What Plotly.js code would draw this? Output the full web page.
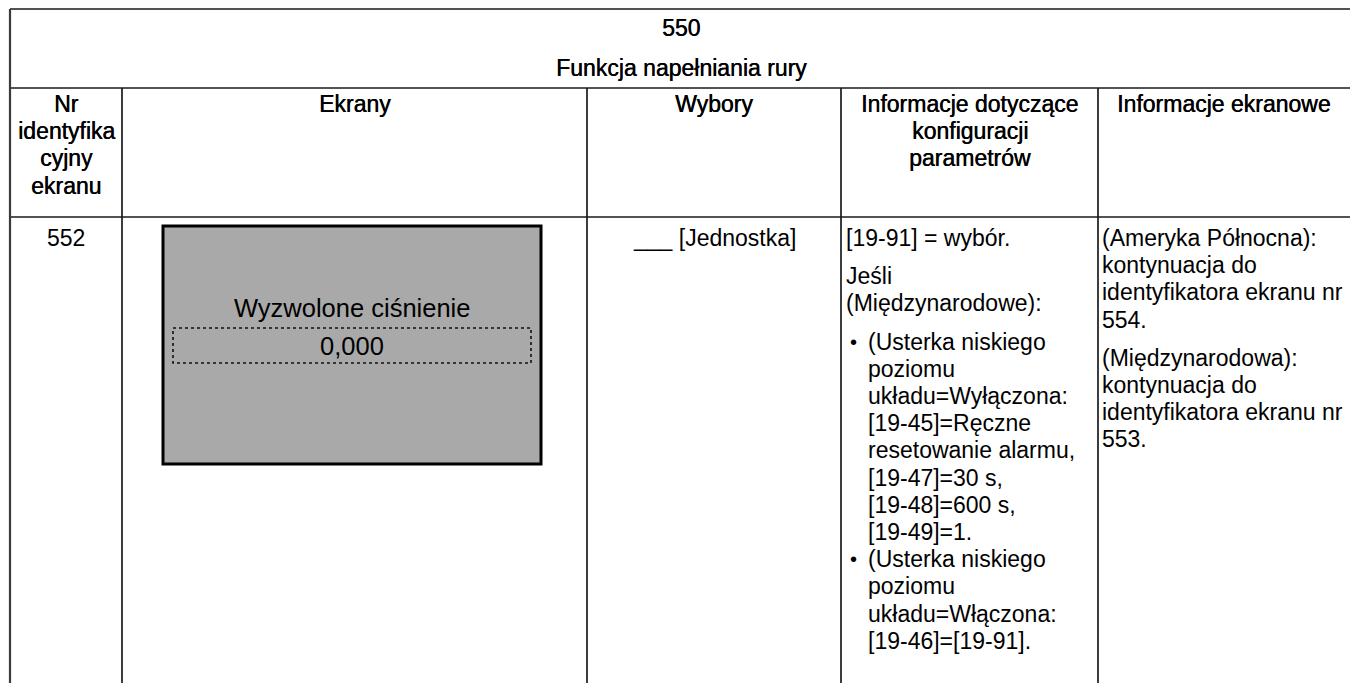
<!DOCTYPE html>
<html>
<head>
<meta charset="utf-8">
<script src="https://cdn.plot.ly/plotly-3.0.1.min.js"></script>
<style>
  html, body { margin: 0; padding: 0; background: #fff; }
  #chart { width: 1350px; height: 683px; }
</style>
</head>
<body>
<div id="chart"></div>
<script>
// ---------- DATA (texts of the table) ----------
const titleLines = ["550", "Funkcja napełniania rury"];
const headerCol1 = ["Nr", "identyfika", "cyjny", "ekranu"];
const headerCol2 = ["Ekrany"];
const headerCol3 = ["Wybory"];
const headerCol4 = ["Informacje dotyczące", "konfiguracji", "parametrów"];
const headerCol5 = ["Informacje ekranowe"];
const screenIds = ["552"];
const screenLabel = ["Wyzwolone ciśnienie"];
const screenValue = ["0,000"];
const choices = ["___ [Jednostka]"];
const paramPara1 = ["[19-91] = wybór."];
const paramPara2 = ["Jeśli", "(Międzynarodowe):"];
const paramBullet1 = ["(Usterka niskiego", "poziomu", "układu=Wyłączona:", "[19-45]=Ręczne", "resetowanie alarmu,", "[19-47]=30 s,", "[19-48]=600 s,", "[19-49]=1."];
const paramBullet2 = ["(Usterka niskiego", "poziomu", "układu=Włączona:", "[19-46]=[19-91]."];
const infoPara1 = ["(Ameryka Północna):", "kontynuacja do", "identyfikatora ekranu nr", "554."];
const infoPara2 = ["(Międzynarodowa):", "kontynuacja do", "identyfikatora ekranu nr", "553."];

// ---------- LAYOUT GEOMETRY ----------
const W = 1350, H = 683;
const colEdges = [10, 122, 587, 841, 1098];
const tableTop = 9, titleBottom = 88, headerBottom = 217;
const FONT = "Liberation Sans, Arial, Helvetica, sans-serif";
const fs = 23, lineH = 27.2, paraGap = 11;
const HEAVY = "0.45px 0 0 #000";

const annotations = [];
function txt(x, y, text, anchor, size, heavy) {
  const font = { family: FONT, size: size || fs, color: "#000" };
  if (heavy) font.shadow = HEAVY;
  annotations.push({
    x: x, y: y, xref: "x", yref: "y", text: text, showarrow: false,
    xanchor: anchor || "center", yanchor: "middle", font: font
  });
}
function mid(i) { return (colEdges[i] + (i + 1 < colEdges.length ? colEdges[i + 1] : W)) / 2; }

// title
titleLines.forEach((t, i) => txt((colEdges[0] + W) / 2 + 1, 28 + i * 40, t, "center", 23, true));
// header
const headers = [headerCol1, headerCol2, headerCol3, headerCol4, headerCol5];
headers.forEach((lines, c) => {
  lines.forEach((t, i) => txt(mid(c), 104 + i * lineH, t, "center", 23, true));
});
// body col 1
screenIds.forEach((t, i) => txt(mid(0), 238 + i * lineH, t, "center"));
// body col 3
choices.forEach((t, i) => txt(mid(2), 238 + i * lineH, t, "center"));
// screen box texts
const box = { x0: 163, x1: 541, y0: 226, y1: 464 };
const boxMid = (box.x0 + box.x1) / 2;
screenLabel.forEach(t => txt(boxMid, 308, t, "center", 25.5));
screenValue.forEach(t => txt(boxMid, 346, t, "center", 25.5));

// body col 4
let y = 238;
const x4 = colEdges[3] + 3, xb = colEdges[3] + 12, x4i = colEdges[3] + 25;
paramPara1.forEach(t => { txt(x4, y, t, "left"); y += lineH; });
y += paraGap;
paramPara2.forEach(t => { txt(x4, y, t, "left"); y += lineH; });
y += paraGap;
[paramBullet1, paramBullet2].forEach(lines => {
  txt(xb, y, "•", "center", 20);
  lines.forEach(t => { txt(x4i, y, t, "left"); y += lineH; });
});
// body col 5
y = 238;
const x5 = colEdges[4] + 2;
infoPara1.forEach(t => { txt(x5, y, t, "left"); y += lineH; });
y += paraGap;
infoPara2.forEach(t => { txt(x5, y, t, "left"); y += lineH; });

// ---------- SHAPES ----------
const lineStyle = { color: "#1a1a1a", width: 1.7 };
const shapes = [];
[tableTop, titleBottom, headerBottom].forEach(yy => shapes.push({
  type: "line", xref: "x", yref: "y", x0: colEdges[0], x1: W + 2, y0: yy, y1: yy, line: lineStyle
}));
shapes.push({ type: "line", xref: "x", yref: "y", x0: colEdges[0], x1: colEdges[0], y0: tableTop, y1: H + 2,
  line: { color: "#3a3a3a", width: 2.2 } });
colEdges.slice(1).forEach(xx => shapes.push({
  type: "line", xref: "x", yref: "y", x0: xx, x1: xx, y0: titleBottom, y1: H + 2, line: lineStyle
}));
// gray screen box
shapes.push({ type: "rect", xref: "x", yref: "y", x0: box.x0, x1: box.x1, y0: box.y0, y1: box.y1,
  fillcolor: "#a9a9a9", line: { color: "#000", width: 3 }, layer: "below" });
// dotted value frame
shapes.push({ type: "rect", xref: "x", yref: "y", x0: 173, x1: 531, y0: 328, y1: 363,
  fillcolor: "rgba(0,0,0,0)", line: { color: "#111", width: 1.6, dash: "dot" } });

const layout = {
  width: W, height: H,
  margin: { l: 0, r: 0, t: 0, b: 0, pad: 0 },
  paper_bgcolor: "#fff", plot_bgcolor: "#fff",
  showlegend: false,
  xaxis: { range: [0, W], visible: false, showgrid: false, zeroline: false, fixedrange: true },
  yaxis: { range: [H, 0], visible: false, showgrid: false, zeroline: false, fixedrange: true },
  shapes: shapes,
  annotations: annotations
};
Plotly.newPlot("chart", [], layout, { staticPlot: true, displayModeBar: false });
</script>
</body>
</html>
